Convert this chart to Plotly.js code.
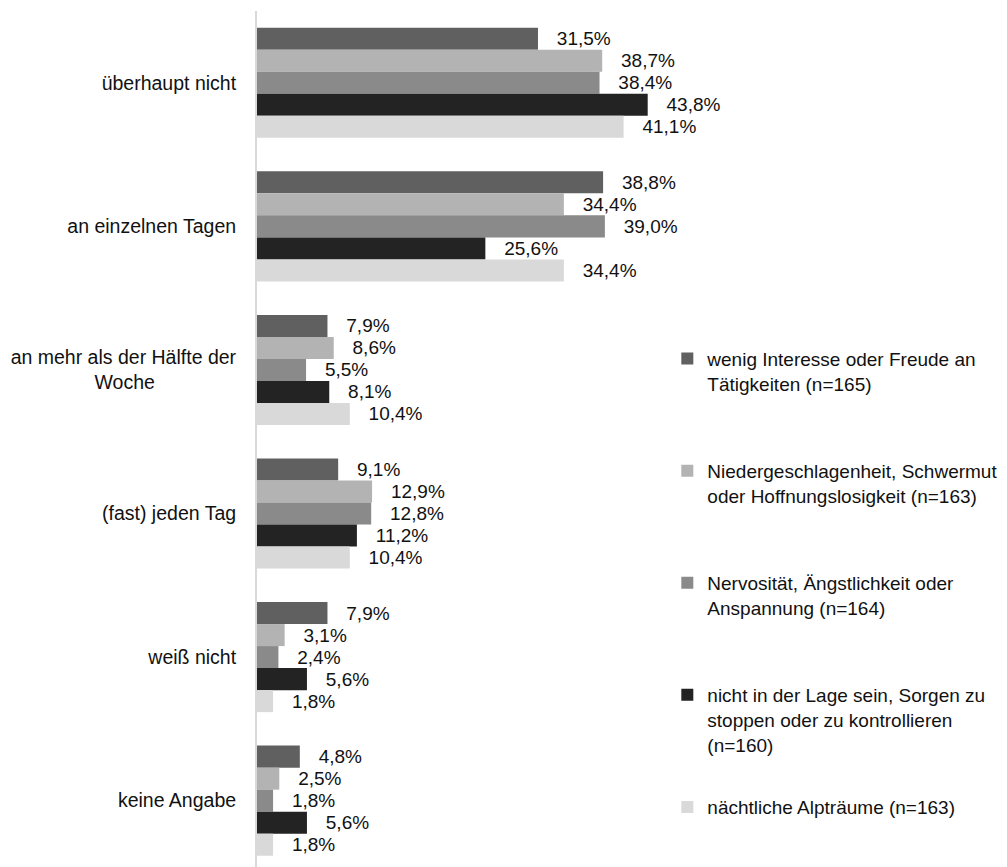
<!DOCTYPE html>
<html>
<head>
<meta charset="utf-8">
<script src="https://cdn.plot.ly/plotly-3.0.1.min.js"></script>
<style>html,body{margin:0;padding:0;background:#fff;}#chart{width:1007px;height:867px;}</style>
</head>
<body>
<div id="chart"></div>
<script>
var NB = '\u00a0';
var categories = [
  'überhaupt nicht',
  'an einzelnen Tagen',
  'an mehr als der Hälfte der<br>Woche' + NB.repeat(15),
  '(fast) jeden Tag',
  'weiß nicht',
  'keine Angabe'
];
var seriesNames = [
  'wenig Interesse oder Freude an<br>Tätigkeiten (n=165)<br>' + NB,
  'Niedergeschlagenheit, Schwermut<br>oder Hoffnungslosigkeit (n=163)<br>' + NB,
  'Nervosität, Ängstlichkeit oder<br>Anspannung (n=164)<br>' + NB,
  'nicht in der Lage sein, Sorgen zu<br>stoppen oder zu kontrollieren<br>(n=160)',
  'nächtliche Alpträume (n=163)'
];
var interesse   = [31.5, 38.8, 7.9, 9.1, 7.9, 4.8];
var niederg     = [38.7, 34.4, 8.6, 12.9, 3.1, 2.5];
var nervositaet = [38.4, 39.0, 5.5, 12.8, 2.4, 1.8];
var sorgen      = [43.8, 25.6, 8.1, 11.2, 5.6, 5.6];
var alptraeume  = [41.1, 34.4, 10.4, 10.4, 1.8, 1.8];
var colors = ['#606060', '#b3b3b3', '#8a8a8a', '#232323', '#d9d9d9'];
var seriesValues = [interesse, niederg, nervositaet, sorgen, alptraeume];

var FONT = 'Liberation Sans, Arial, sans-serif';
var traces = seriesValues.map(function (vals, i) {
  return {
    type: 'bar',
    orientation: 'h',
    y: categories,
    x: vals,
    name: seriesNames[i],
    legendgroup: 'g' + i,
    marker: {color: colors[i], line: {width: 0}},
    texttemplate: NB + NB + NB + '%{x:.1f}%',
    textposition: 'outside',
    constraintext: 'none',
    cliponaxis: false,
    textfont: {family: FONT, size: 19, color: '#111111'},
    hoverinfo: 'skip'
  };
});

var layout = {
  width: 1007,
  height: 867,
  margin: {l: 257, r: 304, t: 11, b: 0, autoexpand: false},
  paper_bgcolor: '#ffffff',
  plot_bgcolor: '#ffffff',
  separators: ',.',
  barmode: 'group',
  bargap: 0.233,
  bargroupgap: 0,
  font: {family: FONT, size: 19, color: '#111111'},
  showlegend: true,
  legend: {
    x: 0.92, xanchor: 'left',
    y: 0.616, yanchor: 'top',
    valign: 'top',
    tracegroupgap: 35,
    font: {family: FONT, size: 19, color: '#111111'},
    bgcolor: 'rgba(0,0,0,0)',
    itemclick: false
  },
  xaxis: {
    range: [0, 50],
    showticklabels: false,
    showgrid: false,
    zeroline: false,
    showline: false,
    ticks: ''
  },
  yaxis: {
    type: 'category',
    categoryorder: 'array',
    categoryarray: categories,
    range: [5.462, -0.5],
    showline: true,
    linecolor: '#d9d9d9',
    linewidth: 2,
    showgrid: false,
    zeroline: false,
    ticks: '',
    ticklabelstandoff: 15,
    tickfont: {family: FONT, size: 19.5, color: '#111111'}
  }
};

Plotly.newPlot('chart', traces, layout, {displayModeBar: false, staticPlot: true});
</script>
</body>
</html>
